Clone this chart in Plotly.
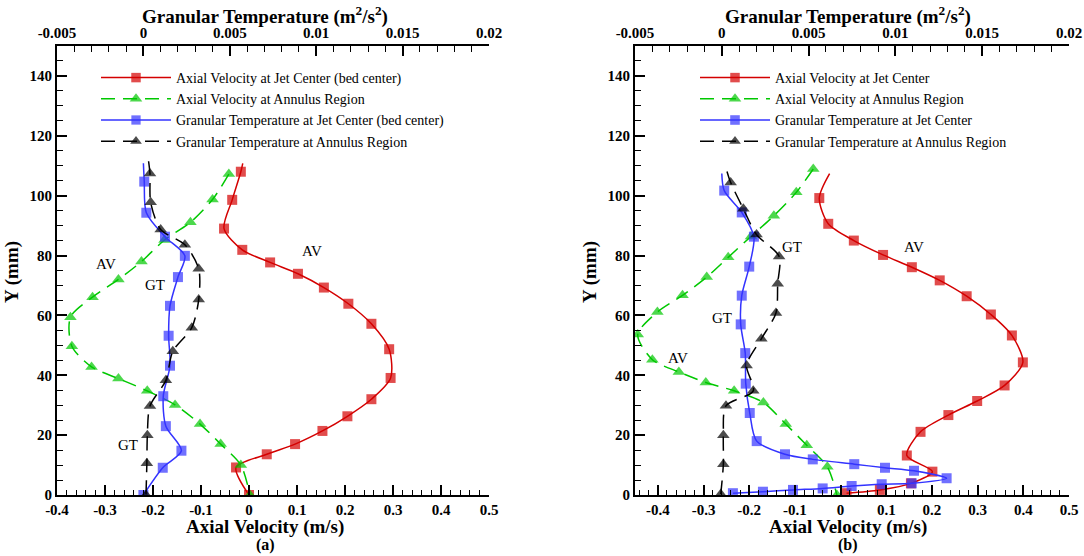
import plotly.graph_objects as go

# ---------------- data ----------------
# Panel (a) : first point of some lists is the end of the curve (no marker)
a_av_jet_x = [-0.013, -0.017, -0.035, -0.052, -0.014, 0.044, 0.102, 0.156, 0.207, 0.255,
              0.292, 0.295, 0.255, 0.205, 0.153, 0.096, 0.037, -0.027, 0.0]
a_av_jet_y = [110.8, 108, 98.6, 89, 81.9, 77.7, 73.9, 69.3, 63.9, 57.2,
              48.7, 39.1, 32, 26.3, 21.4, 17, 13.6, 9.2, 0]
a_av_ann_x = [-0.042, -0.076, -0.122, -0.176, -0.224, -0.272, -0.326, -0.372, -0.369,
              -0.328, -0.272, -0.212, -0.154, -0.102, -0.059, -0.017, 0.002]
a_av_ann_y = [107.2, 98.7, 91.1, 85.2, 78, 72, 66.1, 59.4, 49.7,
              42.8, 38.9, 34.8, 30.1, 23.7, 17, 10, 0]
a_gt_jet_x = [0.0, 0.00005, 0.00017, 0.00125, 0.0024, 0.0020, 0.00154, 0.00146, 0.00154,
              0.00115, 0.0013, 0.0022, 0.00112, 0.0]
a_gt_jet_y = [110.8, 104.7, 94.3, 86.3, 79.9, 72.8, 63.2, 53.2, 43.2,
              33, 23, 14.8, 9.1, 0]
a_gt_ann_x = [0.0003, 0.00038, 0.00042, 0.0010, 0.0024, 0.0032, 0.0032, 0.0028, 0.0017,
              0.0013, 0.00038, 0.00023, 0.0002, 0.00015]
a_gt_ann_y = [111.5, 107.4, 97.8, 88.7, 83.6, 75.6, 65.3, 55.9, 48,
              38.3, 29.7, 20, 10.6, 0]

# Panel (b)
b_av_jet_x = [-0.024, -0.0466, -0.027, 0.029, 0.093, 0.156, 0.217, 0.276, 0.329, 0.375,
              0.399, 0.359, 0.299, 0.236, 0.175, 0.145, 0.201, 0.154, 0.086, 0.013]
b_av_jet_y = [107.4, 99.2, 90.6, 85, 80.2, 76.1, 71.7, 66.4, 60.3, 53.3,
              44.3, 36.6, 31.4, 26.7, 21.1, 13.2, 7.8, 3.9, 1.7, 0.6]
b_av_ann_x = [-0.0598, -0.097, -0.146, -0.196, -0.246, -0.293, -0.346, -0.401, -0.444,
              -0.412, -0.354, -0.295, -0.233, -0.169, -0.12, -0.074, -0.029, -0.008]
b_av_ann_y = [108.9, 101.1, 93.3, 86.4, 79.4, 72.8, 66.7, 61.1, 53.6,
              45.2, 41.1, 37.6, 34.8, 30.9, 23.7, 16.6, 9.4, 0]
b_gt_jet_x = [0.0, 0.00014, 0.00115, 0.00185, 0.00158, 0.00115, 0.00109, 0.00135, 0.00138,
              0.00161, 0.00201, 0.00364, 0.00524, 0.00763, 0.0094, 0.01107, 0.01295,
              0.01094, 0.00921, 0.00748, 0.00581, 0.0041, 0.00237, 0.00064]
b_gt_jet_y = [107.4, 101.7, 94.4, 86.3, 76.3, 66.6, 57, 47.4, 37.2,
              27.4, 18, 13.6, 11.9, 10.3, 9.1, 8.1, 5.6,
              3.9, 3.6, 3, 2.2, 1.7, 1.1, 0.6]
b_gt_ann_x = [0.0003, 0.00051, 0.00124, 0.002, 0.0033, 0.00322, 0.00312, 0.00228, 0.00143,
              0.00181, 0.00024, 0.00009, 0.00009, -0.00006]
b_gt_ann_y = [108.1, 104.4, 95.6, 87, 79.7, 70.6, 60.8, 52.2, 43.3,
              34.8, 29.8, 20, 10.3, 0.3]

# tick labels
av_ticks = [-0.4, -0.3, -0.2, -0.1, 0, 0.1, 0.2, 0.3, 0.4, 0.5]
av_text = ["-0.4", "-0.3", "-0.2", "-0.1", "0", "0.1", "0.2", "0.3", "0.4", "0.5"]
gt_ticks = [-0.005, 0, 0.005, 0.01, 0.015, 0.02]
gt_text = ["-0.005", "0", "0.005", "0.01", "0.015", "0.02"]
y_ticks = [0, 20, 40, 60, 80, 100, 120, 140]
y_text = ["0", "20", "40", "60", "80", "100", "120", "140"]

# curve labels: (text, x, y) on the axial-velocity axis
a_labels = [("AV", -0.298, 77.3), ("GT", -0.196, 70.3), ("GT", -0.252, 16.7), ("AV", 0.131, 81.5)]
b_labels = [("GT", -0.106, 82.7), ("GT", -0.26, 59), ("AV", -0.356, 45.7), ("AV", 0.161, 82.7)]

names_a = ["Axial Velocity at Jet Center (bed center)", "Axial Velocity at Annulus Region",
           "Granular Temperature at Jet Center (bed center)", "Granular Temperature at Annulus Region"]
names_b = ["Axial Velocity at Jet Center", "Axial Velocity at Annulus Region",
           "Granular Temperature at Jet Center", "Granular Temperature at Annulus Region"]

x_title = "Axial Velocity (m/s)"
top_title = "Granular Temperature (m<sup>2</sup>/s<sup>2</sup>)"
y_title = "Y (mm)"

# ---------------- styling ----------------
FONT = "Liberation Serif"
RED = "#d40000"
GREEN = "#00c800"
BLUE = "#3333ff"
BLACK = "#000000"
DASH = "14px,8px"
SQ = 10
TRI = 11

W, H = 1084, 556
fig = go.Figure()


def sizes(n, s, tail):
    return ([0] if tail else []) + [s] * (n - (1 if tail else 0))


def add(x, y, name, color, symbol, msize, dash, xa, ya, legend, tail):
    fig.add_trace(go.Scatter(
        x=x, y=y, name=name, mode="lines+markers", xaxis=xa, yaxis=ya, legend=legend,
        line=dict(color=color, width=1.5, dash=dash, shape="spline", smoothing=0.8),
        marker=dict(color=color, symbol=symbol, size=sizes(len(x), msize, tail),
                    line=dict(width=0)),
    ))


add(a_av_jet_x, a_av_jet_y, names_a[0], RED, "square", SQ, "solid", "x", "y", "legend", True)
add(a_av_ann_x, a_av_ann_y, names_a[1], GREEN, "triangle-up", TRI, DASH, "x", "y", "legend", False)
add(a_gt_jet_x, a_gt_jet_y, names_a[2], BLUE, "square", SQ, "solid", "x2", "y", "legend", True)
add(a_gt_ann_x, a_gt_ann_y, names_a[3], BLACK, "triangle-up", TRI, DASH, "x2", "y", "legend", True)

add(b_av_jet_x, b_av_jet_y, names_b[0], RED, "square", SQ, "solid", "x3", "y2", "legend2", True)
add(b_av_ann_x, b_av_ann_y, names_b[1], GREEN, "triangle-up", TRI, DASH, "x3", "y2", "legend2", False)
add(b_gt_jet_x, b_gt_jet_y, names_b[2], BLUE, "square", SQ, "solid", "x4", "y2", "legend2", True)
add(b_gt_ann_x, b_gt_ann_y, names_b[3], BLACK, "triangle-up", TRI, DASH, "x4", "y2", "legend2", True)

tickfont = dict(family=FONT, size=15, color="black", weight="bold")
titlefont = dict(family=FONT, size=19, color="black", weight="bold")

dom_a = [57 / W, 489 / W]
dom_b = [635 / W, 1069 / W]
dom_y = [61 / H, 510 / H]

common = dict(showline=True, linewidth=2, linecolor="black", showgrid=False, zeroline=False,
              ticks="inside", ticklen=10, tickwidth=1.5, tickcolor="black", tickfont=tickfont,
              automargin=False)


def xbottom(domain, rng, anchor):
    return dict(domain=domain, range=rng, anchor=anchor, side="bottom",
                tickvals=av_ticks, ticktext=av_text,
                minor=dict(dtick=0.02, ticks="inside", ticklen=5, tickwidth=1, tickcolor="black"),
                **common)


def xtop(rng, overlay, anchor):
    return dict(overlaying=overlay, range=rng, anchor=anchor, side="top",
                tickvals=gt_ticks, ticktext=gt_text,
                minor=dict(dtick=0.001, ticks="inside", ticklen=6, tickwidth=1, tickcolor="black"),
                **common)


def yaxis(anchor):
    return dict(domain=dom_y, range=[0, 150], anchor=anchor,
                tickvals=y_ticks, ticktext=y_text,
                minor=dict(dtick=5, ticks="inside", ticklen=6, tickwidth=1, tickcolor="black"),
                **common)


legfont = dict(family=FONT, size=14, color="black")
fig.update_layout(
    width=W, height=H, margin=dict(l=0, r=0, t=0, b=0, autoexpand=False),
    paper_bgcolor="white", plot_bgcolor="white",
    xaxis=xbottom(dom_a, [-0.4, 0.5], "y"),
    xaxis2=xtop([-0.005, 0.02], "x", "y"),
    xaxis3=xbottom(dom_b, [-0.45, 0.5], "y2"),
    xaxis4=xtop([-0.005, 0.02], "x3", "y2"),
    yaxis=yaxis("x"),
    yaxis2=yaxis("x3"),
    legend=dict(x=96 / W, y=1 - 62 / H, xanchor="left", yanchor="top", font=legfont,
                bgcolor="rgba(0,0,0,0)", itemwidth=70, tracegroupgap=0),
    legend2=dict(x=695 / W, y=1 - 62 / H, xanchor="left", yanchor="top", font=legfont,
                 bgcolor="rgba(0,0,0,0)", itemwidth=70, tracegroupgap=0),
    showlegend=True,
)

for txt, x, y in a_labels:
    fig.add_annotation(text=txt, x=x, y=y, xref="x", yref="y", showarrow=False,
                       font=dict(family=FONT, size=15, color="black"))
for txt, x, y in b_labels:
    fig.add_annotation(text=txt, x=x, y=y, xref="x3", yref="y2", showarrow=False,
                       font=dict(family=FONT, size=15, color="black"))

# axis titles and panel tags as text annotations placed in paper space
for cx, tag, ytx in [(265, "(a)", 12), (848, "(b)", 590)]:
    fig.add_annotation(text=x_title, x=cx / W, y=1 - 527 / H, xref="paper", yref="paper",
                       xanchor="center", yanchor="middle", showarrow=False, font=titlefont)
    fig.add_annotation(text=top_title, x=cx / W, y=1 - 15 / H, xref="paper", yref="paper",
                       xanchor="center", yanchor="middle", showarrow=False, font=titlefont)
    fig.add_annotation(text=tag, x=cx / W, y=1 - 545 / H, xref="paper", yref="paper",
                       xanchor="center", yanchor="middle", showarrow=False,
                       font=dict(family=FONT, size=16, color="black", weight="bold"))
    fig.add_annotation(text=y_title, x=ytx / W, y=1 - 272 / H, xref="paper", yref="paper",
                       xanchor="center", yanchor="middle", showarrow=False, textangle=-90,
                       font=titlefont)

fig.write_html("out.html")
